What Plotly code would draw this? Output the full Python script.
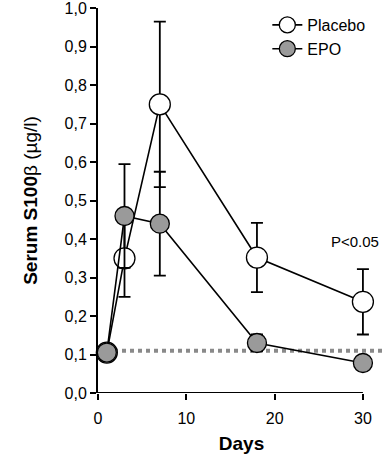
import plotly.graph_objects as go

days = [1, 3, 7, 18, 30]
placebo = [0.105, 0.35, 0.75, 0.352, 0.237]
placebo_err = [0.0, 0.10, 0.215, 0.09, 0.085]
epo = [0.105, 0.46, 0.44, 0.13, 0.078]
epo_err = [0.0, 0.135, 0.135, 0.022, 0.0]
reference_level = 0.11
y_ticks = [0.0, 0.1, 0.2, 0.3, 0.4, 0.5, 0.6, 0.7, 0.8, 0.9, 1.0]
x_ticks = [0, 10, 20, 30]

FONT = "Liberation Sans, Arial, sans-serif"

fig = go.Figure()

# reference dotted line
fig.add_trace(go.Scatter(
    x=[0, 32.5], y=[reference_level, reference_level], mode="lines",
    line=dict(color="#8a8a8a", width=4, dash="dot"), showlegend=False, hoverinfo="skip"))

fig.add_trace(go.Scatter(
    x=days, y=placebo, mode="lines+markers", name="Placebo",
    line=dict(color="black", width=1.6),
    marker=dict(size=21, color="white", line=dict(color="black", width=1.3)),
    error_y=dict(type="data", array=placebo_err, visible=True, color="black",
                 thickness=1.8, width=6),
    cliponaxis=False))

fig.add_trace(go.Scatter(
    x=days, y=epo, mode="lines+markers", name="EPO",
    line=dict(color="black", width=1.6),
    marker=dict(size=19, color="#9a9a9a", line=dict(color="black", width=1.3)),
    error_y=dict(type="data", array=epo_err, visible=True, color="black",
                 thickness=1.8, width=6),
    cliponaxis=False))

# bottom axis line only from 0 to 30
fig.add_shape(type="line", xref="x", yref="y", x0=0, x1=30, y0=0, y1=0,
              line=dict(color="black", width=2))

fig.add_annotation(x=382 / 388, y=0.393, xref="paper", yref="y", text="P<0.05",
                   xanchor="right", showarrow=False,
                   font=dict(family=FONT, size=15, color="black"))

fig.update_layout(
    width=388, height=467,
    margin=dict(l=98, r=3, t=8, b=74),
    paper_bgcolor="white", plot_bgcolor="white",
    separators=",.",
    font=dict(family=FONT, size=16, color="black"),
    showlegend=True,
    legend=dict(x=0.59, y=1.0, xanchor="left", yanchor="top",
                font=dict(family=FONT, size=16), itemwidth=30,
                tracegroupgap=0, bgcolor="rgba(0,0,0,0)"),
    xaxis=dict(range=[0, 32.5], tickvals=x_ticks, ticks="outside", ticklen=6,
               tickwidth=2, tickcolor="black", showgrid=False, zeroline=False,
               showline=False, automargin=False, ticklabeloverflow="allow",
               ticklabelstandoff=5,
               title=dict(text="<b>Days</b>", font=dict(size=19), standoff=10)),
    yaxis=dict(range=[0, 1.0005], tickvals=y_ticks, tickformat=".1f", ticks="outside",
               ticklen=6, tickwidth=2, tickcolor="black", showgrid=False,
               zeroline=False, showline=True, linecolor="black", linewidth=2,
               automargin=False, ticklabeloverflow="allow",
               title=dict(text="<b>Serum S100</b>β (µg/l)", font=dict(size=19),
                          standoff=22)),
)

fig.write_html("out.html", config={"displayModeBar": False},
               post_script="document.body.style.margin='0';document.body.style.overflow='hidden';")
